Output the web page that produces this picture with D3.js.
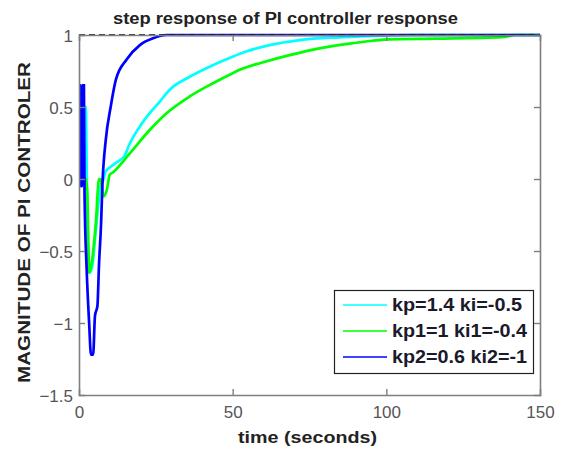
<!DOCTYPE html>
<html>
<head>
<meta charset="utf-8">
<script src="https://cdn.jsdelivr.net/npm/d3@7"></script>
<style>
  html, body { margin: 0; padding: 0; background: #fff; }
  svg { display: block; font-family: "Liberation Sans", Arial, sans-serif; }
</style>
</head>
<body>
<svg id="chart" width="565" height="450"></svg>
<script>
// ---- data ----
const seriesNames = ["kp=1.4 ki=-0.5", "kp1=1 ki1=-0.4", "kp2=0.6 ki2=-1"];
const seriesColors = ["#00ffff", "#00ff00", "#0000ff"];

const timeCyan = [0, 0.2, 2.2, 2.6, 3.4, 4.2, 5.5, 7.0, 8.0, 8.6, 10.0, 12.5, 14.7, 16.6, 19.8, 23.0, 26.3, 29.5, 36.0, 42.5, 49.0, 54.4, 62.0, 71.8, 84.7, 95.5, 108, 150];
const valCyan  = [0, 0.5, 0.5, -0.1, -0.65, -0.62, -0.35, -0.05, 0.0, 0.05, 0.08, 0.12, 0.157, 0.25, 0.365, 0.457, 0.538, 0.62, 0.71, 0.78, 0.84, 0.885, 0.93, 0.965, 0.984, 0.993, 1.0, 1.0];

const timeGreen = [0, 2.3, 2.7, 3.3, 4.0, 5.5, 6.5, 7.0, 8.0, 9.0, 10.0, 11.0, 16.6, 23.0, 28.5, 36.0, 43.6, 50.0, 52.3, 55.0, 58.8, 68.5, 78.2, 88.0, 95.5, 101, 116, 137.7, 142, 150];
const valGreen  = [0, 0.0, -0.1, -0.65, -0.6, -0.3, 0.0, 0.0, -0.12, -0.08, 0.03, 0.045, 0.18, 0.34, 0.457, 0.573, 0.665, 0.735, 0.758, 0.78, 0.804, 0.86, 0.907, 0.94, 0.96, 0.97, 0.975, 0.985, 1.0, 1.0];

const timeBlue = [0, 0.1, 0.5, 0.6, 1.0, 1.1, 1.6, 1.8, 2.5, 3.3, 3.9, 4.6, 5.2, 6.0, 6.5, 7.2, 7.6, 8.7, 10.3, 12.0, 15.5, 19.8, 24.1, 28.5, 150];
const valBlue  = [0, 0.65, 0.65, -0.05, -0.05, 0.65, 0.65, -0.1, -0.63, -1.0, -1.22, -1.22, -0.95, -0.88, -0.6, -0.3, -0.05, 0.27, 0.5, 0.69, 0.83, 0.93, 0.977, 1.0, 1.0];

const referenceLevel = 1;
const xTicks = [0, 50, 100, 150];
const yTicks = [-1.5, -1, -0.5, 0, 0.5, 1];

const titleText = "step response of PI controller response";
const xLabelText = "time (seconds)";
const yLabelText = "MAGNITUDE OF PI CONTROLER";

// ---- layout ----
const svg = d3.select("#chart");
const L = 79, R = 540, T = 35, B = 395;

const x = d3.scaleLinear().domain([0, 150]).range([L, R]);
const y = d3.scaleLinear().domain([-1.5, 1]).range([B, T]);

const series = [
  { t: timeCyan, v: valCyan },
  { t: timeGreen, v: valGreen },
  { t: timeBlue, v: valBlue }
];

const line = d3.line().x(d => x(d[0])).y(d => y(d[1])).curve(d3.curveMonotoneX);
const straight = d3.line().x(d => x(d[0])).y(d => y(d[1]));

svg.append("defs").append("clipPath").attr("id", "plotclip")
  .append("rect").attr("x", L).attr("y", T - 3).attr("width", R - L).attr("height", B - T + 3);

const plot = svg.append("g").attr("clip-path", "url(#plotclip)");

series.forEach((s, i) => {
  const pts = s.t.map((t, j) => [t, s.v[j]]);
  plot.append("path")
    .attr("d", line(pts))
    .attr("fill", "none")
    .attr("stroke", seriesColors[i])
    .attr("stroke-width", 2.7)
    .attr("stroke-linejoin", "miter");
});

// dashed reference line at 1
svg.append("path")
  .attr("d", straight([[0, referenceLevel], [150, referenceLevel]]))
  .attr("stroke", "#000")
  .attr("stroke-width", 1.4)
  .attr("stroke-dasharray", "6,4")
  .attr("fill", "none");

// axes (box)
const axisColor = "#7f7f7f";
const labColor = "#555555";

const xAxisB = d3.axisBottom(x).tickValues(xTicks).tickSize(-6).tickPadding(8).tickFormat(d3.format("d"));
const gxb = svg.append("g").attr("transform", `translate(0,${B})`).call(xAxisB);
const xAxisT = d3.axisTop(x).tickValues(xTicks).tickSize(-6).tickFormat("");
const gxt = svg.append("g").attr("transform", `translate(0,${T})`).call(xAxisT);
const yAxisL = d3.axisLeft(y).tickValues(yTicks).tickSize(-6).tickPadding(6).tickFormat(d => d3.format("")(d));
const gyl = svg.append("g").attr("transform", `translate(${L},0)`).call(yAxisL);
const yAxisR = d3.axisRight(y).tickValues(yTicks).tickSize(-6).tickFormat("");
const gyr = svg.append("g").attr("transform", `translate(${R},0)`).call(yAxisR);

[gxb, gxt, gyl, gyr].forEach(g => {
  g.select(".domain").attr("stroke", axisColor).attr("stroke-width", 1.6);
  g.selectAll(".tick line").attr("stroke", axisColor).attr("stroke-width", 1.4);
  g.selectAll(".tick text")
    .attr("fill", labColor)
    .style("font-size", "17px")
    .style("font-family", "Liberation Sans, Arial, sans-serif");
});
gxb.selectAll(".tick text").attr("dy", "0.9em");
gyl.selectAll(".tick text").attr("dy", "0.36em");
gxb.selectAll(".tick").filter(d => d === 0 || d === 150).select("line").remove();
gxt.selectAll(".tick").filter(d => d === 0 || d === 150).select("line").remove();
gyl.selectAll(".tick").filter(d => d === -1.5 || d === 1).select("line").remove();
gyr.selectAll(".tick").filter(d => d === -1.5 || d === 1).select("line").remove();

// title
svg.append("text")
  .attr("x", (113 + 458) / 2).attr("y", 24)
  .attr("text-anchor", "middle")
  .attr("font-weight", "bold")
  .attr("font-size", 16)
  .attr("fill", "#222")
  .attr("textLength", 345).attr("lengthAdjust", "spacingAndGlyphs")
  .text(titleText);

// x label
svg.append("text")
  .attr("x", (238 + 377) / 2).attr("y", 443)
  .attr("text-anchor", "middle")
  .attr("font-weight", "bold")
  .attr("font-size", 17)
  .attr("fill", "#222")
  .attr("textLength", 139).attr("lengthAdjust", "spacingAndGlyphs")
  .text(xLabelText);

// y label
svg.append("text")
  .attr("transform", `translate(30,${(62 + 383) / 2}) rotate(-90)`)
  .attr("text-anchor", "middle")
  .attr("font-weight", "bold")
  .attr("font-size", 17)
  .attr("fill", "#222")
  .attr("textLength", 321).attr("lengthAdjust", "spacingAndGlyphs")
  .text(yLabelText);

// legend
const lg = svg.append("g");
lg.append("rect")
  .attr("x", 334.5).attr("y", 290.5).attr("width", 199).attr("height", 83)
  .attr("fill", "#fff").attr("stroke", "#222").attr("stroke-width", 1.2);
const legY = [305, 331, 357];
const legW = [130, 135, 135];
seriesNames.forEach((name, i) => {
  lg.append("line")
    .attr("x1", 343).attr("x2", 387)
    .attr("y1", legY[i]).attr("y2", legY[i])
    .attr("stroke", seriesColors[i]).attr("stroke-width", 1.3);
  lg.append("text")
    .attr("x", 392).attr("y", legY[i] + 6)
    .attr("font-weight", "bold")
    .attr("font-size", 18)
    .attr("fill", "#1a1a2a")
    .attr("textLength", legW[i]).attr("lengthAdjust", "spacingAndGlyphs")
    .text(name);
});
</script>
</body>
</html>
